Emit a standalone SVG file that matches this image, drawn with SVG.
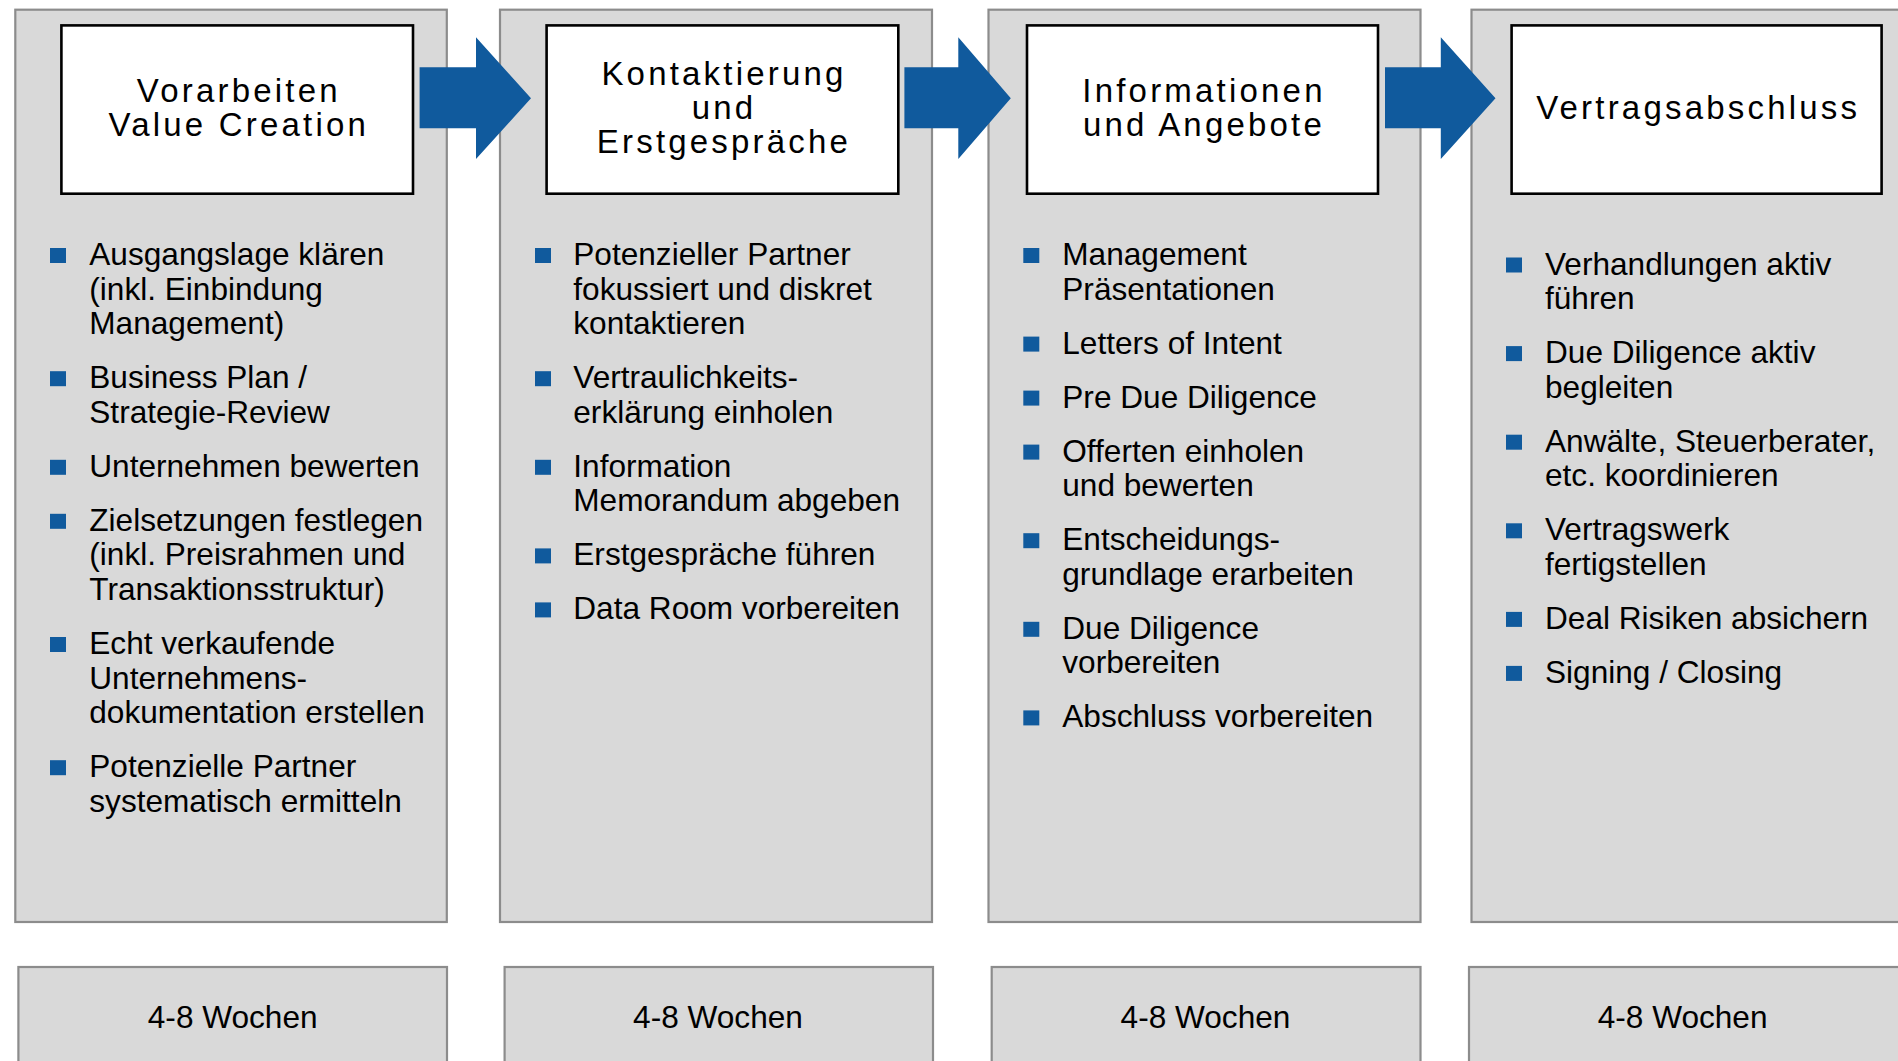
<svg xmlns="http://www.w3.org/2000/svg" width="1898" height="1061" viewBox="0 0 1898 1061">
  <style>
    .col { fill: #d9d9d9; stroke: #8c8c8c; stroke-width: 2.2; }
    .title-box { fill: #ffffff; stroke: #000000; stroke-width: 2.6; }
    .title { font-family: "Liberation Sans", Arial, sans-serif; font-size: 33px; letter-spacing: 3.2px; fill: #000000; text-anchor: middle; }
    .item { font-family: "Liberation Sans", Arial, sans-serif; font-size: 31.6px; fill: #000000; }
    .dur { font-family: "Liberation Sans", Arial, sans-serif; font-size: 31.6px; fill: #000000; text-anchor: middle; }
    .bullet { fill: #105a9d; }
    .arrow { fill: #105a9d; }
  </style>
  <defs>
    <rect id="sq" width="16" height="15" class="bullet"/>
  </defs>

  <!-- Phase 1 -->
  <g id="phase-vorarbeiten">
    <rect class="col" x="15.3" y="9.7" width="431.5" height="912.3"/>
    <rect class="title-box" x="61.4" y="25.4" width="351.6" height="168.3"/>
    <text class="title"><tspan x="238.8" y="102">Vorarbeiten</tspan><tspan x="238.8" y="136">Value Creation</tspan></text>
    <use href="#sq" x="50" y="248"/>
    <use href="#sq" x="50" y="371.2"/>
    <use href="#sq" x="50" y="459.8"/>
    <use href="#sq" x="50" y="513.8"/>
    <use href="#sq" x="50" y="637"/>
    <use href="#sq" x="50" y="760.2"/>
    <text class="item">
      <tspan x="89.3" y="265">Ausgangslage klären</tspan>
      <tspan x="89.3" y="299.6">(inkl. Einbindung</tspan>
      <tspan x="89.3" y="334.2">Management)</tspan>
      <tspan x="89.3" y="388.2">Business Plan /</tspan>
      <tspan x="89.3" y="422.8">Strategie-Review</tspan>
      <tspan x="89.3" y="476.8">Unternehmen bewerten</tspan>
      <tspan x="89.3" y="530.8">Zielsetzungen festlegen</tspan>
      <tspan x="89.3" y="565.4">(inkl. Preisrahmen und</tspan>
      <tspan x="89.3" y="600">Transaktionsstruktur)</tspan>
      <tspan x="89.3" y="654">Echt verkaufende</tspan>
      <tspan x="89.3" y="688.6">Unternehmens-</tspan>
      <tspan x="89.3" y="723.2">dokumentation erstellen</tspan>
      <tspan x="89.3" y="777.2">Potenzielle Partner</tspan>
      <tspan x="89.3" y="811.8">systematisch ermitteln</tspan>
    </text>
  </g>

  <!-- Phase 2 -->
  <g id="phase-kontaktierung">
    <rect class="col" x="500" y="9.7" width="432" height="912.3"/>
    <rect class="title-box" x="546.6" y="25.4" width="351.7" height="168.3"/>
    <text class="title"><tspan x="724" y="84.5">Kontaktierung</tspan><tspan x="724" y="118.5">und</tspan><tspan x="724" y="152.5">Erstgespräche</tspan></text>
    <use href="#sq" x="535" y="248"/>
    <use href="#sq" x="535" y="371.2"/>
    <use href="#sq" x="535" y="459.8"/>
    <use href="#sq" x="535" y="548.4"/>
    <use href="#sq" x="535" y="602.4"/>
    <text class="item">
      <tspan x="573.3" y="265">Potenzieller Partner</tspan>
      <tspan x="573.3" y="299.6">fokussiert und diskret</tspan>
      <tspan x="573.3" y="334.2">kontaktieren</tspan>
      <tspan x="573.3" y="388.2">Vertraulichkeits-</tspan>
      <tspan x="573.3" y="422.8">erklärung einholen</tspan>
      <tspan x="573.3" y="476.8">Information</tspan>
      <tspan x="573.3" y="511.4">Memorandum abgeben</tspan>
      <tspan x="573.3" y="565.4">Erstgespräche führen</tspan>
      <tspan x="573.3" y="619.4">Data Room vorbereiten</tspan>
    </text>
  </g>

  <!-- Phase 3 -->
  <g id="phase-informationen">
    <rect class="col" x="988.5" y="9.7" width="432" height="912.3"/>
    <rect class="title-box" x="1027" y="25.4" width="351" height="168.3"/>
    <text class="title"><tspan x="1204" y="102">Informationen</tspan><tspan x="1204" y="136">und Angebote</tspan></text>
    <use href="#sq" x="1023.3" y="248"/>
    <use href="#sq" x="1023.3" y="336.6"/>
    <use href="#sq" x="1023.3" y="390.6"/>
    <use href="#sq" x="1023.3" y="444.6"/>
    <use href="#sq" x="1023.3" y="533.2"/>
    <use href="#sq" x="1023.3" y="621.8"/>
    <use href="#sq" x="1023.3" y="710.4"/>
    <text class="item">
      <tspan x="1062.3" y="265">Management</tspan>
      <tspan x="1062.3" y="299.6">Präsentationen</tspan>
      <tspan x="1062.3" y="353.6">Letters of Intent</tspan>
      <tspan x="1062.3" y="407.6">Pre Due Diligence</tspan>
      <tspan x="1062.3" y="461.6">Offerten einholen</tspan>
      <tspan x="1062.3" y="496.2">und bewerten</tspan>
      <tspan x="1062.3" y="550.2">Entscheidungs-</tspan>
      <tspan x="1062.3" y="584.8">grundlage erarbeiten</tspan>
      <tspan x="1062.3" y="638.8">Due Diligence</tspan>
      <tspan x="1062.3" y="673.4">vorbereiten</tspan>
      <tspan x="1062.3" y="727.4">Abschluss vorbereiten</tspan>
    </text>
  </g>

  <!-- Phase 4 -->
  <g id="phase-vertragsabschluss">
    <rect class="col" x="1471.5" y="9.7" width="440" height="912.3"/>
    <rect class="title-box" x="1511.6" y="25.4" width="370" height="168.3"/>
    <text class="title"><tspan x="1698.2" y="119">Vertragsabschluss</tspan></text>
    <use href="#sq" x="1506" y="257.5"/>
    <use href="#sq" x="1506" y="346.1"/>
    <use href="#sq" x="1506" y="434.7"/>
    <use href="#sq" x="1506" y="523.3"/>
    <use href="#sq" x="1506" y="611.9"/>
    <use href="#sq" x="1506" y="665.9"/>
    <text class="item">
      <tspan x="1545" y="274.5">Verhandlungen aktiv</tspan>
      <tspan x="1545" y="309.1">führen</tspan>
      <tspan x="1545" y="363.1">Due Diligence aktiv</tspan>
      <tspan x="1545" y="397.7">begleiten</tspan>
      <tspan x="1545" y="451.7">Anwälte, Steuerberater,</tspan>
      <tspan x="1545" y="486.3">etc. koordinieren</tspan>
      <tspan x="1545" y="540.3">Vertragswerk</tspan>
      <tspan x="1545" y="574.9">fertigstellen</tspan>
      <tspan x="1545" y="628.9">Deal Risiken absichern</tspan>
      <tspan x="1545" y="682.9">Signing / Closing</tspan>
    </text>
  </g>

  <!-- Duration boxes -->
  <g id="duration-1">
    <rect class="col" x="18.4" y="967" width="428.6" height="110"/>
    <text class="dur" x="232.7" y="1028.3">4-8 Wochen</text>
  </g>
  <g id="duration-2">
    <rect class="col" x="504.6" y="967" width="428.4" height="110"/>
    <text class="dur" x="718" y="1028.3">4-8 Wochen</text>
  </g>
  <g id="duration-3">
    <rect class="col" x="991.7" y="967" width="428.8" height="110"/>
    <text class="dur" x="1205.5" y="1028.3">4-8 Wochen</text>
  </g>
  <g id="duration-4">
    <rect class="col" x="1469" y="967" width="440" height="110"/>
    <text class="dur" x="1682.6" y="1028.3">4-8 Wochen</text>
  </g>

  <!-- Block arrows between phases -->
  <g id="connectors">
    <polygon class="arrow" points="419.6,67.3 476,67.3 476,37.3 531,98.2 476,159 476,128.3 419.6,128.3"/>
    <polygon class="arrow" points="904.4,67.3 958.3,67.3 958.3,37.3 1010.8,98.2 958.3,159 958.3,128.3 904.4,128.3"/>
    <polygon class="arrow" points="1385,67.3 1440.8,67.3 1440.8,37.3 1495.5,98.2 1440.8,159 1440.8,128.3 1385,128.3"/>
  </g>
</svg>
